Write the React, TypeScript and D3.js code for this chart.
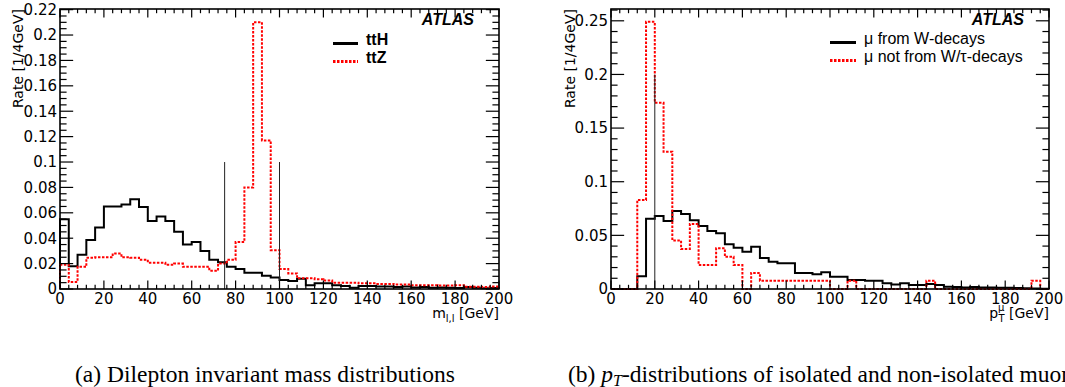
import React from 'react';
import * as d3 from 'd3';

const W = 1065;
const H = 387;
const BIN_WIDTH = 4;

// left panel: dilepton invariant mass, 4 GeV bins from 0 to 200
const ttH = [
  0.055, 0.018, 0.027, 0.0385, 0.0485, 0.065, 0.065, 0.0665, 0.0707, 0.0645,
  0.0535, 0.057, 0.0535, 0.045, 0.035, 0.037, 0.03, 0.023, 0.021, 0.0175,
  0.0157, 0.0128, 0.0128, 0.0105, 0.009, 0.0071, 0.0063, 0.008, 0.003, 0.0045,
  0.0045, 0.003, 0.0024, 0.001, 0.0024, 0.0024, 0.002, 0.002, 0.0015, 0.002,
  0.0012, 0.0015, 0.001, 0.0012, 0.001, 0.0008, 0.0016, 0.001, 0.0005, 0.0008,
];
const ttZ = [
  0.019, 0.0055, 0.0175, 0.0246, 0.025, 0.025, 0.028, 0.025, 0.0246, 0.023,
  0.0207, 0.0207, 0.019, 0.02, 0.0175, 0.0175, 0.0175, 0.0144, 0.02, 0.023,
  0.037, 0.08, 0.21, 0.117, 0.0306, 0.0157, 0.0123, 0.0084, 0.0084, 0.0076,
  0.0066, 0.005, 0.005, 0.005, 0.0045, 0.0045, 0.004, 0.004, 0.0035, 0.0035,
  0.003, 0.003, 0.003, 0.0028, 0.0028, 0.003, 0.0018, 0.0018, 0.0015, 0.002,
];
const massCuts = [75, 100];

// right panel: muon pT
const muFromW = [
  0, 0, 0, 0.012, 0.0655, 0.068, 0.0634, 0.0727, 0.07, 0.064,
  0.0587, 0.054, 0.052, 0.0416, 0.0385, 0.0348, 0.0394, 0.029, 0.0255, 0.024,
  0.024, 0.015, 0.015, 0.0137, 0.0155, 0.0115, 0.0115, 0.0084, 0.0084, 0.0078,
  0.0078, 0.0053, 0.0043, 0.0053, 0.0037, 0.0037, 0.0047, 0.0037, 0.002, 0.0018,
  0.0015, 0.0018, 0.0015, 0.0015, 0.0012, 0.0012, 0.001, 0.0008, 0.0005, 0.0003,
];
const muNotFromW = [
  0, 0, 0, 0.083, 0.249, 0.1736, 0.128, 0.0453, 0.0373, 0.0606,
  0.0224, 0.0224, 0.038, 0.03, 0.0224, 0, 0.015, 0.0078, 0.0078, 0.0078,
  0.0078, 0.0078, 0.0078, 0.0078, 0.0078, 0, 0, 0.0078, 0, 0,
  0, 0, 0, 0, 0, 0, 0.0078, 0, 0, 0,
  0, 0, 0, 0, 0, 0, 0, 0, 0.0078, 0,
];
const ptCuts = [20];

const xTickLabels = ['0', '20', '40', '60', '80', '100', '120', '140', '160', '180', '200'];
const massYTickLabels = ['0', '0.02', '0.04', '0.06', '0.08', '0.1', '0.12', '0.14', '0.16', '0.18', '0.2', '0.22'];
const ptYTickLabels = ['0', '0.05', '0.1', '0.15', '0.2', '0.25'];

const SANS = 'DejaVu Sans, sans-serif';
const ARIAL = 'Liberation Sans, Arial, sans-serif';
const SERIF = 'Liberation Serif, Times New Roman, serif';

interface Series { values: number[]; color: string; dash?: string; label: string; bold?: boolean }

interface PanelProps {
  x0: number; x1: number; y0: number; y1: number;
  yMax: number; yMinor: number; yLabels: string[];
  series: Series[];
  cuts: number[]; cutTop: number;
  legendX: number; legendLineW: number; legendY: number[];
  xTitle: React.ReactNode;
  yTitleX: number;
}

const Panel: React.FC<PanelProps> = (p) => {
  const x = d3.scaleLinear().domain([0, 200]).range([p.x0, p.x1]);
  const y = d3.scaleLinear().domain([0, p.yMax]).range([p.y1, p.y0]);

  const line = d3.line<[number, number]>()
    .x(d => x(d[0]))
    .y(d => y(d[1]))
    .curve(d3.curveStepAfter);

  const histPath = (vals: number[]) => {
    const pts: [number, number][] = [[0, 0]];
    vals.forEach((v, i) => pts.push([i * BIN_WIDTH, v]));
    pts.push([vals.length * BIN_WIDTH, 0]);
    return line(pts) || '';
  };

  const xLen = (p.y1 - p.y0) * 0.03;
  const yLen = (p.x1 - p.x0) * 0.03;
  const xMinor = d3.range(0, 200.001, 4);
  const yMinor = d3.range(0, p.yMax + 1e-9, p.yMinor);
  const yMajorVals = p.yLabels.map(Number);
  const isMajorY = (v: number) => yMajorVals.some(m => Math.abs(m - v) < 1e-6);

  return (
    <g>
      {p.series.map((s, i) => (
        <path key={i} d={histPath(s.values)} fill="none" stroke={s.color}
          strokeWidth={2} strokeDasharray={s.dash} />
      ))}
      {p.cuts.map(c => (
        <line key={c} x1={x(c)} x2={x(c)} y1={y(0)} y2={y(p.cutTop)} stroke="#222" strokeWidth={1} />
      ))}

      {/* frame */}
      <rect x={p.x0} y={p.y0} width={p.x1 - p.x0} height={p.y1 - p.y0} fill="none" stroke="#000" strokeWidth={1.6} />

      {/* x ticks, bottom and top */}
      {xMinor.map(v => {
        const major = v % 20 === 0;
        const len = major ? xLen : xLen / 2;
        return (
          <g key={v} stroke="#000" strokeWidth={1.2}>
            <line x1={x(v)} x2={x(v)} y1={p.y1} y2={p.y1 - len} />
            <line x1={x(v)} x2={x(v)} y1={p.y0} y2={p.y0 + len} />
          </g>
        );
      })}
      {/* y ticks, left and right */}
      {yMinor.map(v => {
        const len = isMajorY(v) ? yLen : yLen / 2;
        return (
          <g key={v} stroke="#000" strokeWidth={1.2}>
            <line x1={p.x0} x2={p.x0 + len} y1={y(v)} y2={y(v)} />
            <line x1={p.x1} x2={p.x1 - len} y1={y(v)} y2={y(v)} />
          </g>
        );
      })}

      {xTickLabels.map(l => (
        <text key={l} x={x(+l)} y={p.y1 + 15} textAnchor="middle" fontFamily={SANS} fontSize={15} fill="#000">{l}</text>
      ))}
      {p.yLabels.map(l => (
        <text key={l} x={p.x0 - 3} y={y(+l)} dy="0.36em" textAnchor="end" fontFamily={SANS} fontSize={15} fill="#000">{l}</text>
      ))}

      <text transform={`translate(${p.yTitleX},${p.y0}) rotate(-90)`} textAnchor="end" fontFamily={SANS} fontSize={14} fill="#000">Rate [1/4GeV]</text>
      {p.xTitle}

      <text x={p.x1 - 25} y={p.y0 + 16} textAnchor="end" fontFamily={ARIAL} fontSize={16} fontWeight="bold" fontStyle="italic" fill="#000">ATLAS</text>

      {p.series.map((s, i) => (
        <g key={s.label}>
          <line x1={p.legendX} x2={p.legendX + p.legendLineW} y1={p.legendY[i] - 1} y2={p.legendY[i] - 1}
            stroke={s.color} strokeWidth={3} strokeDasharray={s.dash} />
          <text x={p.legendX + p.legendLineW + 8} y={p.legendY[i]} fontFamily={ARIAL} fontSize={16}
            fontWeight={s.bold ? 'bold' : 'normal'} fill="#000">{s.label}</text>
        </g>
      ))}
    </g>
  );
};

const App: React.FC = () => {
  return (
    <svg width={W} height={H} viewBox={`0 0 ${W} ${H}`}
      style={{ position: 'absolute', left: 0, top: 0, background: '#fff' }}>
      <rect width={W} height={H} fill="#fff" />
      <Panel
        x0={60} x1={499} y0={9} y1={289}
        yMax={0.2205} yMinor={0.005} yLabels={massYTickLabels}
        series={[
          { values: ttH, color: '#000', label: 'ttH', bold: true },
          { values: ttZ, color: '#ff0000', dash: '2.5,1.5', label: 'ttZ', bold: true },
        ]}
        cuts={massCuts} cutTop={0.1}
        legendX={333} legendLineW={25} legendY={[44.5, 62.5]}
        yTitleX={23}
        xTitle={
          <text x={499} y={318} textAnchor="end" fontFamily={SANS} fontSize={14} fill="#000">
            m<tspan fontSize={10} dy={4}>l,l</tspan><tspan dy={-4}> [GeV]</tspan>
          </text>
        }
      />
      <Panel
        x0={611} x1={1049} y0={9} y1={289}
        yMax={0.261} yMinor={0.01} yLabels={ptYTickLabels}
        series={[
          { values: muFromW, color: '#000', label: 'μ from W-decays' },
          { values: muNotFromW, color: '#ff0000', dash: '2.5,1.5', label: 'μ not from W/τ-decays' },
        ]}
        cuts={ptCuts} cutTop={0.2}
        legendX={830} legendLineW={26} legendY={[43.5, 61.5]}
        yTitleX={575}
        xTitle={
          <text x={1049} y={318} textAnchor="end" fontFamily={SANS} fontSize={14} fill="#000">
            p<tspan fontSize={10} dy={-7}>μ</tspan><tspan fontSize={10} dx={-6} dy={11}>T</tspan><tspan dy={-4}> [GeV]</tspan>
          </text>
        }
      />

      <text x={75} y={382} fontFamily={SERIF} fontSize={23.5} fill="#000">(a)  Dilepton invariant mass distributions</text>
      <text x={568} y={382} fontFamily={SERIF} fontSize={23.5} fill="#000">
        (b)  <tspan fontStyle="italic">p</tspan><tspan fontStyle="italic" fontSize={16} dy={4}>T</tspan><tspan dy={-4}>-distributions of isolated and non-isolated muons</tspan>
      </text>
    </svg>
  );
};

export default App;
